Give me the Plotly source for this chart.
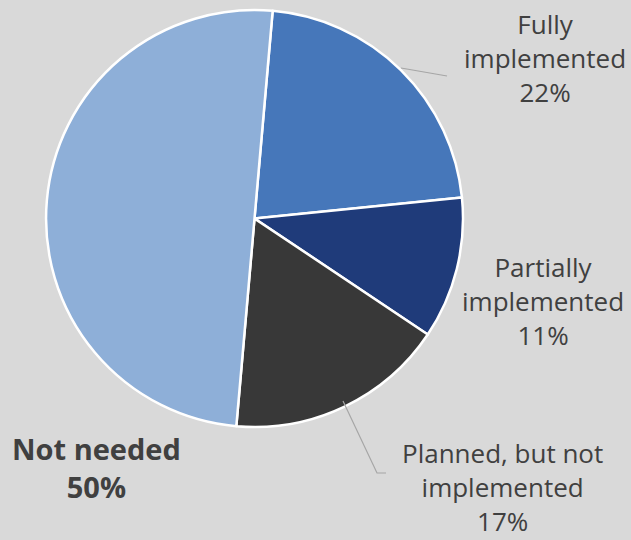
import plotly.graph_objects as go

# Implementation status breakdown
labels = ["Fully implemented", "Partially implemented", "Planned, but not implemented", "Not needed"]
values = [22, 11, 17, 50]
colors = ["#4677BA", "#1F3B7A", "#383838", "#8EAFD8"]

W, H = 631, 540
BG = "#D9D9D9"
TEXT = "#404040"
FONT = "Open Sans"


def px(x):
    return x / W


def py(y):
    return 1 - y / H


cx, cy, r = 254.5, 218.5, 208.5

fig = go.Figure(
    go.Pie(
        labels=labels,
        values=values,
        sort=False,
        direction="clockwise",
        rotation=5,
        marker=dict(colors=colors, line=dict(color="white", width=2.5)),
        textinfo="none",
        hoverinfo="label+percent",
        showlegend=False,
        domain=dict(x=[px(cx - r), px(cx + r)], y=[py(cy + r), py(cy - r)]),
    )
)

total = sum(values)


def pct(v):
    return f"{round(100 * v / total)}%"


# label text: (name lines, anchor x, anchor y, bold)
label_spec = [
    ("Fully<br>implemented", 545, 58, False),
    ("Partially<br>implemented", 543, 301, False),
    ("Planned, but not<br>implemented", 502, 487, False),
    ("Not needed", 97, 467, True),
]

for (txt, x, y, bold), v in zip(label_spec, values):
    if bold:
        text = f"<b>{txt}<br>{pct(v)}</b>"
        size = 29
    else:
        text = f"{txt}<br>{pct(v)}"
        size = 26
    fig.add_annotation(
        x=px(x), y=py(y), xref="paper", yref="paper",
        text=text, showarrow=False, align="center",
        xanchor="center", yanchor="middle",
        font=dict(family=FONT, size=size, color=TEXT),
    )

# leader lines
leaders = [
    [(401, 68), (447, 76)],
    [(343, 401), (377, 473), (386, 473)],
]
for pts in leaders:
    path = "M " + " L ".join(f"{px(a)},{py(b)}" for a, b in pts)
    fig.add_shape(type="path", path=path, xref="paper", yref="paper",
                  line=dict(color="#A6A6A6", width=1.2))

fig.update_layout(
    width=W, height=H,
    margin=dict(l=0, r=0, t=0, b=0),
    paper_bgcolor=BG, plot_bgcolor=BG,
)

fig.write_html("out.html")
